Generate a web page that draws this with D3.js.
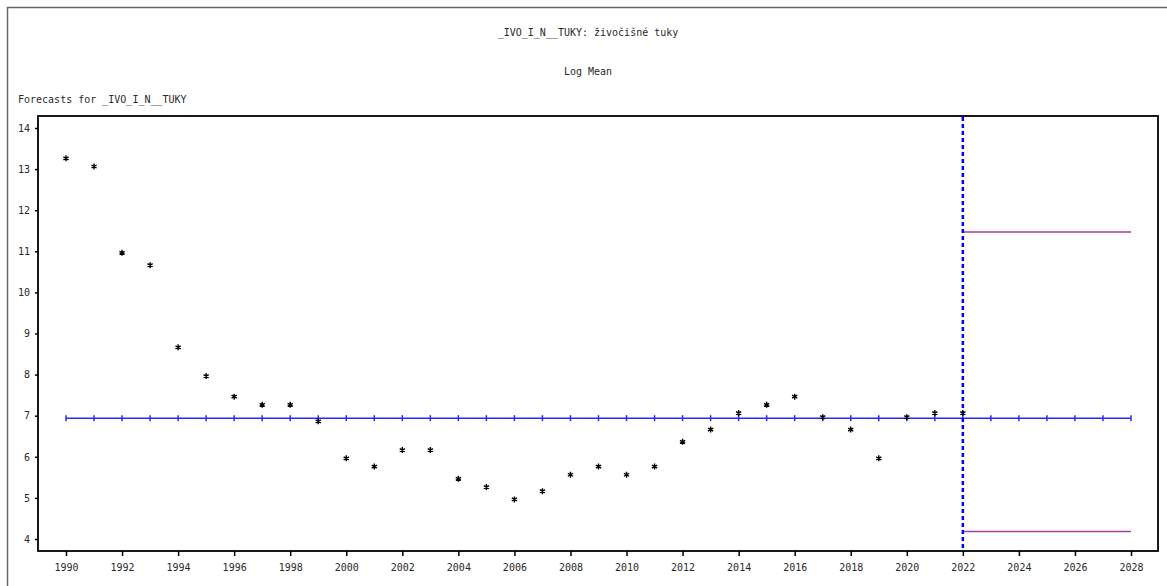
<!DOCTYPE html>
<html>
<head>
<meta charset="utf-8">
<script src="https://cdn.jsdelivr.net/npm/d3@7"></script>
<style>
  html, body { margin: 0; padding: 0; background: #fff; }
  svg { display: block; }
  text { font-family: "DejaVu Sans Mono", "Liberation Mono", monospace; }
</style>
</head>
<body>
<svg id="chart" width="1167" height="586"></svg>
<script>
// ---- data ----
const years = [1990,1991,1992,1993,1994,1995,1996,1997,1998,1999,2000,2001,2002,2003,2004,2005,2006,2007,2008,2009,2010,2011,2012,2013,2014,2015,2016,2017,2018,2019,2020,2021,2022];
const actual = [13.3,13.1,11.0,10.7,8.7,8.0,7.5,7.3,7.3,6.9,6.0,5.8,6.2,6.2,5.5,5.3,5.0,5.2,5.6,5.8,5.6,5.8,6.4,6.7,7.1,7.3,7.5,7.0,6.7,6.0,7.0,7.1,7.1];
const forecastYears = [1990,1991,1992,1993,1994,1995,1996,1997,1998,1999,2000,2001,2002,2003,2004,2005,2006,2007,2008,2009,2010,2011,2012,2013,2014,2015,2016,2017,2018,2019,2020,2021,2022,2023,2024,2025,2026,2027,2028];
const forecastMean = 6.94;
const limitYears = [2022, 2028];
const upperLimit = [11.47, 11.47];
const lowerLimit = [4.18, 4.18];
const forecastStart = 2022;
const xTicks = [1990,1992,1994,1996,1998,2000,2002,2004,2006,2008,2010,2012,2014,2016,2018,2020,2022,2024,2026,2028];
const yTicks = [4,5,6,7,8,9,10,11,12,13,14];
const titleText = "_IVO_I_N__TUKY: živočišné tuky";
const subtitleText = "Log Mean";
const headerText = "Forecasts for _IVO_I_N__TUKY";

// ---- layout ----
const svg = d3.select("#chart");
const frame = {left: 38, top: 116, right: 1158, bottom: 551};
const x = d3.scaleLinear().domain([1990, 2028]).range([66, 1131]);
const y = d3.scaleLinear().domain([4, 14]).range([539, 128]);
const textColor = "#2a2a2a";

svg.append("rect").attr("width", 1167).attr("height", 586).attr("fill", "#fff");

// outer border
svg.append("rect")
  .attr("x", 7.5).attr("y", 7.5).attr("width", 1200).attr("height", 700)
  .attr("fill", "none").attr("stroke", "#666").attr("stroke-width", 1.5);

// titles
svg.append("text").attr("x", 588).attr("y", 36).attr("text-anchor", "middle")
  .attr("font-size", 10).attr("fill", textColor).text(titleText);
svg.append("text").attr("x", 588).attr("y", 75).attr("text-anchor", "middle")
  .attr("font-size", 10).attr("fill", textColor).text(subtitleText);
svg.append("text").attr("x", 18).attr("y", 103)
  .attr("font-size", 10).attr("fill", textColor).text(headerText);

// axes
const yAxis = svg.append("g").attr("transform", `translate(${frame.left},0)`)
  .call(d3.axisLeft(y).tickValues(yTicks).tickSize(3).tickPadding(5).tickFormat(d3.format("d")));
yAxis.select(".domain").remove();
yAxis.selectAll("line").attr("stroke", "#000").attr("stroke-width", 1.5);
yAxis.selectAll("text").attr("font-size", 10).attr("fill", textColor)
  .style("font-family", "'DejaVu Sans Mono', monospace");

const xAxis = svg.append("g").attr("transform", `translate(0,${frame.bottom})`)
  .call(d3.axisBottom(x).tickValues(xTicks).tickSize(5).tickPadding(8).tickFormat(d3.format("d")));
xAxis.select(".domain").remove();
xAxis.selectAll("line").attr("stroke", "#000").attr("stroke-width", 1.5);
xAxis.selectAll("text").attr("font-size", 10).attr("fill", textColor)
  .style("font-family", "'DejaVu Sans Mono', monospace");

// frame
svg.append("rect")
  .attr("x", frame.left).attr("y", frame.top)
  .attr("width", frame.right - frame.left).attr("height", frame.bottom - frame.top)
  .attr("fill", "none").attr("stroke", "#000").attr("stroke-width", 1.8);

// forecast mean line
const line = d3.line().x(d => x(d[0])).y(d => y(d[1]));
const meanData = forecastYears.map(yr => [yr, forecastMean]);
svg.append("path").datum(meanData).attr("d", line)
  .attr("fill", "none").attr("stroke", "#2a2aff").attr("stroke-width", 1.5);
svg.append("g").selectAll("line").data(meanData).join("line")
  .attr("x1", d => x(d[0])).attr("x2", d => x(d[0]))
  .attr("y1", d => y(d[1]) - 3).attr("y2", d => y(d[1]) + 3)
  .attr("stroke", "#2a2aff").attr("stroke-width", 1.5);

// confidence limits
const upData = limitYears.map((yr, i) => [yr, upperLimit[i]]);
const loData = limitYears.map((yr, i) => [yr, lowerLimit[i]]);
[upData, loData].forEach(dd => {
  svg.append("path").datum(dd).attr("d", line)
    .attr("fill", "none").attr("stroke", "#a53fa5").attr("stroke-width", 1.5);
});

// forecast start reference line
svg.append("line")
  .attr("x1", x(forecastStart)).attr("x2", x(forecastStart))
  .attr("y1", frame.top + 1).attr("y2", frame.bottom)
  .attr("stroke", "#0000ff").attr("stroke-width", 2.5).attr("stroke-dasharray", "4,3");

// actual values as asterisks (glyph sits slightly below its value, as in the original)
const r = 3;
const starPath = (() => {
  const p = d3.path();
  for (let k = 0; k < 3; k++) {
    const a = Math.PI / 2 + k * Math.PI / 3;
    p.moveTo(r * Math.cos(a), r * Math.sin(a));
    p.lineTo(-r * Math.cos(a), -r * Math.sin(a));
  }
  return p.toString();
})();
svg.append("g").selectAll("path").data(years.map((yr, i) => [yr, actual[i]])).join("path")
  .attr("transform", d => `translate(${x(d[0])},${y(d[1]) + 1.5})`)
  .attr("d", starPath)
  .attr("fill", "none").attr("stroke", "#000").attr("stroke-width", 1.4);
</script>
</body>
</html>
